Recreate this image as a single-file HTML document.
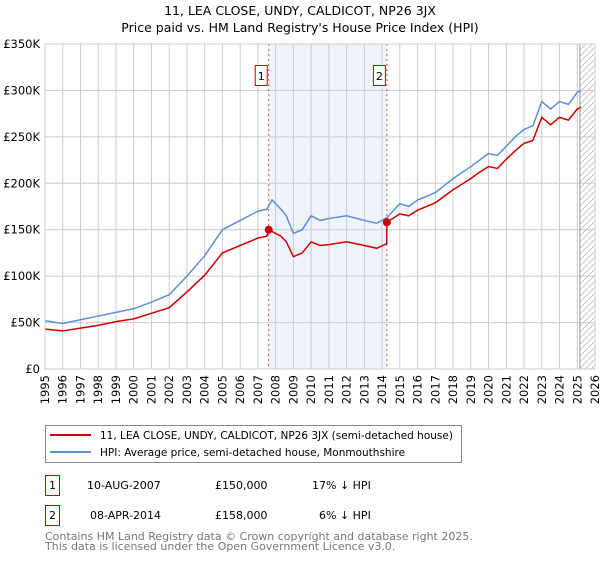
<!DOCTYPE html>
<html><head><meta charset="utf-8"><style>
body{margin:0;background:#fff;font-family:"Liberation Sans","DejaVu Sans",sans-serif;}
svg text{font-family:"DejaVu Sans","Liberation Sans",sans-serif;}
</style></head><body>
<svg width="600" height="560" xmlns="http://www.w3.org/2000/svg" id="chart">
<text x="300" y="15" text-anchor="middle" font-size="12.5">11, LEA CLOSE, UNDY, CALDICOT, NP26 3JX</text>
<text x="300" y="32" text-anchor="middle" font-size="12.5">Price paid vs. HM Land Registry's House Price Index (HPI)</text>
<g id="plot"></g>
<g>
<rect x="45.5" y="425.5" width="416" height="37" fill="#fff" stroke="#888"/>
<line x1="50" y1="435" x2="91" y2="435" stroke="#cc0000" stroke-width="2"/>
<text x="100" y="439" font-size="10.5">11, LEA CLOSE, UNDY, CALDICOT, NP26 3JX (semi-detached house)</text>
<line x1="50" y1="452" x2="91" y2="452" stroke="#5b8fd6" stroke-width="2"/>
<text x="100" y="456" font-size="10.5">HPI: Average price, semi-detached house, Monmouthshire</text>
</g>
<g font-size="11">
<rect x="45.5" y="475.5" width="14" height="20" fill="#fff" stroke="#cc0000"/>
<text x="52.5" y="489" text-anchor="middle">1</text>
<text x="87" y="489">10-AUG-2007</text><text x="215" y="489">£150,000</text><text x="312" y="489">17% ↓ HPI</text>
<rect x="45.5" y="505.5" width="14" height="20" fill="#fff" stroke="#cc0000"/>
<text x="52.5" y="519" text-anchor="middle">2</text>
<text x="90" y="519">08-APR-2014</text><text x="215" y="519">£158,000</text><text x="319" y="519">6% ↓ HPI</text>
</g>
<text x="45" y="540" font-size="11" fill="#777">Contains HM Land Registry data © Crown copyright and database right 2025.</text>
<text x="45" y="550" font-size="11" fill="#777">This data is licensed under the Open Government Licence v3.0.</text>
</svg>
<script>
const hpiX=[1995,1996,1997,1998,1999,2000,2001,2002,2003,2004,2005,2006,2007,2007.5,2007.8,2008.3,2008.6,2009.0,2009.5,2010,2010.5,2011,2012,2013,2013.7,2014.27,2015,2015.5,2016,2017,2018,2019,2019.5,2020,2020.5,2021,2021.5,2022,2022.5,2023,2023.5,2024,2024.5,2025,2025.2];
const hpiY=[52,49,53,57,61,65,72,80,100,122,150,160,170,172,182,172,165,146,150,165,160,162,165,160,157,163,178,175,182,190,205,218,225,232,230,240,250,258,262,288,280,288,285,298,300];
const redX=[1995,1996,1997,1998,1999,2000,2001,2002,2003,2004,2005,2006,2007,2007.5,2007.6,2008.3,2008.6,2009.0,2009.5,2010,2010.5,2011,2012,2013,2013.7,2014.26,2014.27,2015,2015.5,2016,2017,2018,2019,2019.5,2020,2020.5,2021,2021.5,2022,2022.5,2023,2023.5,2024,2024.5,2025,2025.2];
const redY=[43,41,44,47,51,54,60,66,83,101,125,133,141,143,150,143,137,121,125,137,133,134,137,133,130,135,158,167,165,171,179,193,205,212,218,216,226,235,243,246,271,263,271,268,280,282];
const saleX=[2007.61,2014.27];
const saleY=[150,158];
const saleLabels=["1","2"];
const yTicks=[0,50,100,150,200,250,300,350];
const yLabels=["£0","£50K","£100K","£150K","£200K","£250K","£300K","£350K"];
const xTicks=[1995,1996,1997,1998,1999,2000,2001,2002,2003,2004,2005,2006,2007,2008,2009,2010,2011,2012,2013,2014,2015,2016,2017,2018,2019,2020,2021,2022,2023,2024,2025,2026];
const X0=45,X1=595,Y0=369,Y1=44;
function sx(v){return X0+(v-1995)/(2026-1995)*(X1-X0);}
function sy(v){return Y0-v/350*(Y0-Y1);}
const NS="http://www.w3.org/2000/svg",g=document.getElementById('plot');
function mk(t,a,p){const e=document.createElementNS(NS,t);for(const k in a)e.setAttribute(k,a[k]);(p||g).appendChild(e);return e;}
let e=mk('rect',{x:sx(saleX[0]),y:Y1,width:sx(saleX[1])-sx(saleX[0]),height:Y0-Y1,fill:'#eef3fc'});


const defs=mk('defs',{});
const pat=mk('pattern',{id:'hatch',width:6,height:6,patternUnits:'userSpaceOnUse'},defs);
mk('path',{d:'M0,6 L6,0',stroke:'#bbb','stroke-width':0.8},pat);
const HS=2025.15;
e=mk('rect',{x:sx(HS),y:Y1,width:X1-sx(HS),height:Y0-Y1,fill:'url(#hatch)'});


xTicks.forEach(t=>{
 const l=mk('line',{x1:sx(t),x2:sx(t),y1:Y1,y2:Y0,stroke:'#ccc'});
 
 
 const x=sx(t);
 const tx=mk('text',{x:x+4,y:Y0+6,'font-size':11.5,transform:`rotate(-90 ${x+4} ${Y0+6})`,'text-anchor':'end'});
 tx.textContent=t;
 
 
});
yTicks.forEach((t,i)=>{
 const l=mk('line',{x1:X0,x2:X1,y1:sy(t),y2:sy(t),stroke:'#ccc'});
 
 
 const tx=mk('text',{x:X0-5,y:sy(t)+4,'font-size':11.5,'text-anchor':'end'});
 tx.textContent=yLabels[i];
 
 
});
e=mk('line',{x1:sx(HS),x2:sx(HS),y1:Y1,y2:Y0,stroke:'#999','stroke-width':1});


saleX.forEach((s,i)=>{
 const l=mk('line',{x1:sx(s),x2:sx(s),y1:Y1,y2:Y0,stroke:'#e05050','stroke-dasharray':'2,3'});
 
 
 const r=mk('rect',{x:sx(s)-13.5,y:65.5,width:12,height:20,fill:'#fff',stroke:'#cc0000'});
 
 
 const t=mk('text',{x:sx(s)-7.5,y:80,'font-size':11,'text-anchor':'middle'});
 t.textContent=saleLabels[i];
 
 
});
function line(xs,ys,c,n){const p=mk('polyline',{points:xs.map((x,i)=>sx(x)+','+sy(ys[i])).join(' '),fill:'none',stroke:c,'stroke-width':1.5});
 
 }
line(hpiX,hpiY,'#5b8fd6','hpi-line');
line(redX,redY,'#cc0000','price-paid-line');
saleX.forEach((s,i)=>{const c=mk('circle',{cx:sx(s),cy:sy(saleY[i]),r:4,fill:'#cc0000'});
 
 });
mk('rect',{x:X0,y:Y1,width:X1-X0,height:Y0-Y1,fill:'none',stroke:'#ccc'});
</script>
</body></html>
